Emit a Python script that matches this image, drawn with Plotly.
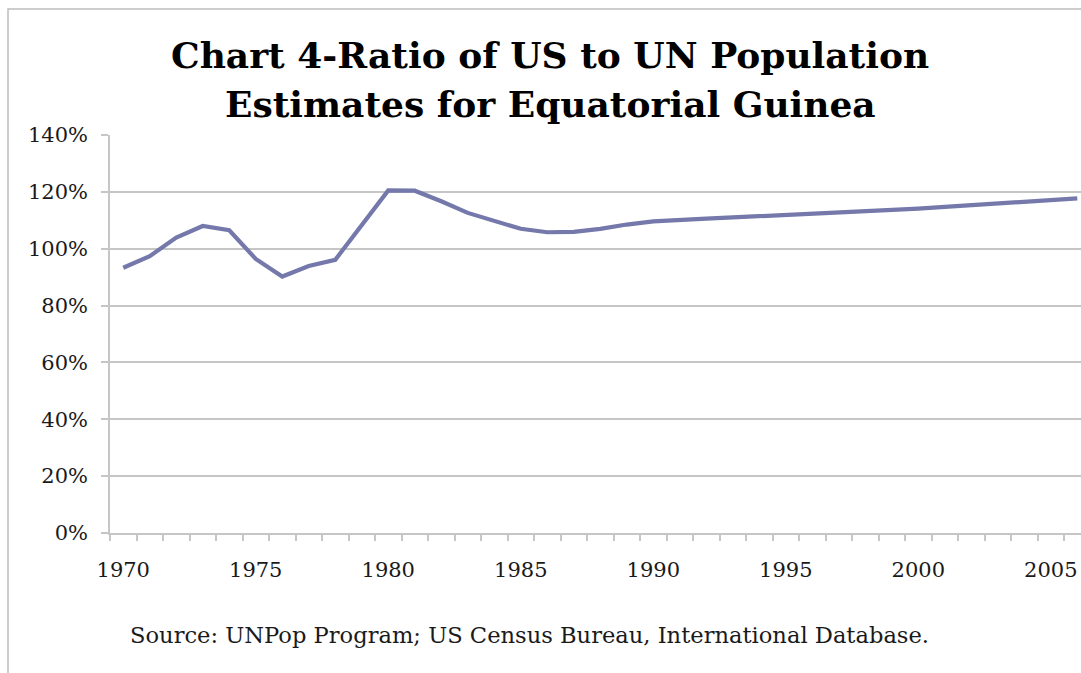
import plotly.graph_objects as go

# ---- data ----
years = [1970, 1971, 1972, 1973, 1974, 1975, 1976, 1977, 1978, 1979,
         1980, 1981, 1982, 1983, 1984, 1985, 1986, 1987, 1988, 1989,
         1990, 1991, 1992, 1993, 1994, 1995, 1996, 1997, 1998, 1999,
         2000, 2001, 2002, 2003, 2004, 2005, 2006]
ratio = [0.933, 0.974, 1.039, 1.080, 1.065, 0.964, 0.902, 0.939, 0.961, 1.083,
         1.205, 1.204, 1.167, 1.126, 1.098, 1.070, 1.058, 1.059, 1.070, 1.085,
         1.096, 1.102, 1.106, 1.110, 1.114, 1.118, 1.122, 1.126, 1.130, 1.135,
         1.141, 1.147, 1.153, 1.159, 1.165, 1.171, 1.177]
x_tick_vals = [1970, 1975, 1980, 1985, 1990, 1995, 2000, 2005]
y_tick_vals = [0, 0.2, 0.4, 0.6, 0.8, 1.0, 1.2, 1.4]
title_line1 = "Chart 4-Ratio of US to UN Population"
title_line2 = "Estimates for Equatorial Guinea"
source_text = "Source: UNPop Program; US Census Bureau, International Database."

# ---- layout geometry (pixels) ----
W, H = 1081, 673
ML, MR, MT, MB = 110, 0, 135, 140
PW = W - ML - MR
PH = H - MT - MB


def px(xp):
    return (xp - ML) / PW


def py(yp):
    return (H - MB - yp) / PH


FONT = "DejaVu Serif"
GRID = "#c6c6c6"

fig = go.Figure()
fig.add_trace(go.Scatter(
    x=years, y=ratio, mode="lines",
    line=dict(color="#7478aa", width=4.2),
    showlegend=False, hoverinfo="x+y",
))

fig.update_layout(
    width=W, height=H,
    margin=dict(l=ML, r=MR, t=MT, b=MB, pad=0),
    paper_bgcolor="white", plot_bgcolor="white",
    font=dict(family=FONT, color="#1a1a1a", size=21),
    showlegend=False,
)

fig.update_xaxes(
    range=[1969.5, 2006.14],
    tickmode="array", tickvals=x_tick_vals,
    ticks="outside", ticklen=6, tickcolor="rgba(0,0,0,0)",
    ticklabelstandoff=11,
    tickfont=dict(family=FONT, size=21, color="#1a1a1a"),
    showgrid=False, zeroline=False,
    showline=True, linecolor=GRID, linewidth=1.5,
    minor=dict(tick0=1969.5, dtick=1, ticks="outside", ticklen=6,
               tickcolor=GRID, tickwidth=1.5, showgrid=False),
)
fig.update_yaxes(
    range=[0, 1.4],
    tickmode="array", tickvals=y_tick_vals, tickformat=".0%",
    ticks="outside", ticklen=7, tickcolor=GRID, tickwidth=1.5,
    ticklabelstandoff=9,
    tickfont=dict(family=FONT, size=21, color="#1a1a1a"),
    showgrid=True, gridcolor=GRID, gridwidth=1.5,
    zeroline=False,
    showline=True, linecolor=GRID, linewidth=1.5,
)

# outer chart border
fig.add_shape(type="rect", xref="paper", yref="paper",
              x0=px(8), x1=px(1100), y0=py(690), y1=py(9),
              line=dict(color="#bdbdbd", width=1.5), layer="below")

fig.add_annotation(text="<b>%s</b>" % title_line1, xref="paper", yref="paper",
                   x=px(550), y=py(55), xanchor="center", yanchor="middle",
                   showarrow=False, font=dict(family=FONT, size=36, color="black"))
fig.add_annotation(text="<b>%s</b>" % title_line2, xref="paper", yref="paper",
                   x=px(550), y=py(104), xanchor="center", yanchor="middle",
                   showarrow=False, font=dict(family=FONT, size=36, color="black"))
fig.add_annotation(text=source_text, xref="paper", yref="paper",
                   x=px(529), y=py(635), xanchor="center", yanchor="middle",
                   showarrow=False, font=dict(family=FONT, size=22.6, color="#1a1a1a"))

fig.write_html("out.html")
